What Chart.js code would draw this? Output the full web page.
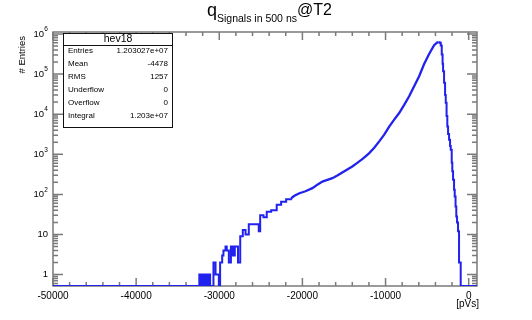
<!DOCTYPE html>
<html>
<head>
<meta charset="utf-8">
<script src="https://cdn.jsdelivr.net/npm/chart.js@4.4.0/dist/chart.umd.min.js"></script>
<style>
  html, body { margin: 0; padding: 0; background: #fff; }
  #wrap { width: 532px; height: 320px; }
</style>
</head>
<body>
<div id="wrap"><canvas id="c" width="532" height="320"></canvas></div>
<script>
'use strict';

/* ── DATOS DEL HISTOGRAMA hev18 ──
   Cola izquierda ruidosa (escalones): borde izquierdo (pVs) y cuentas.
   0 = bin vacío, se dibuja en el fondo del eje log. */
const tailLow = [
  -50000, -32400, -32300, -32200, -32100, -32000, -31900, -31800, -31700, -31600,
  -31500, -31400, -31300, -31200, -31100, -30700, -30450, -30050, -29900, -29650,
  -29500, -29250, -29100, -28850, -28600, -28370, -28130, -27750, -27480, -27170,
  -26840, -26450, -25250, -25080, -24680, -24290, -23760, -23090, -22560, -21960,
  -21360
];
const tailEntries = [
  0, 1, 0, 1, 0, 1, 0, 1, 0, 1,
  0, 1, 0, 1, 0, 2, 1, 0, 2, 3,
  4, 5, 4, 2, 5, 3, 5, 2, 9, 13,
  10, 18, 12, 30, 27, 37, 40, 55, 66, 76,
  80
];

/* Cuerpo suave hasta el pico (posición en pVs y cuentas) */
const bodyX = [
  -21360, -20960, -20360, -19640, -18800, -18200, -17600, -17000, -16400, -15800,
  -15200, -14600, -14000, -13400, -12800, -12440, -11960, -11360, -10760, -10160,
  -9560, -8960, -8360, -7760, -7160, -6560, -5960, -5360, -4760, -4160,
  -3800, -3620
];
const bodyEntries = [
  80, 92, 107, 120, 143, 175, 209, 230, 254, 295,
  351, 420, 496, 610, 759, 880, 1070, 1450, 2100, 3100,
  4900, 7300, 10700, 17000, 27900, 50000, 88000, 178000, 316000, 525000,
  610000, 625000
];

/* Caída tras el pico (escalones) */
const edgeLow = [
  -3620, -3500, -3360, -3240, -3140, -3080, -2960, -2840, -2760, -2660,
  -2570, -2480, -2360, -2240, -2160, -2040, -1970, -1880, -1760, -1680,
  -1580, -1490, -1400, -1280, -1160, -960, 1000
];
const edgeEntries = [
  625000, 600000, 515000, 307000, 180000, 117000, 61000, 30000, 19400, 9000,
  4950, 3200, 2300, 1600, 1300, 614, 380, 231, 130, 88,
  50, 28, 20, 12, 2, 0, 0
];

/* ── EJES ── */
const X_MIN = -50000, X_MAX = 1000;
const Y_MIN = 0.52,   Y_MAX = 1.12e6;
const xTickValues = [-50000, -40000, -30000, -20000, -10000, 0];
const xTickLabels = ['-50000', '-40000', '-30000', '-20000', '-10000', '0'];
const yTickValues = [1, 10, 100, 1e3, 1e4, 1e5, 1e6];
const yTickBase   = ['1', '10', '10', '10', '10', '10', '10'];
const yTickExp    = ['', '', '2', '3', '4', '5', '6'];

/* ── CAJA DE ESTADÍSTICAS ── */
const statsTitle  = 'hev18';
const statsNames  = ['Entries', 'Mean', 'RMS', 'Underflow', 'Overflow', 'Integral'];
const statsValues = ['1.203027e+07', '-4478', '1257', '0', '0', '1.203e+07'];

const FONT       = '"Liberation Sans", Arial, Helvetica, sans-serif';
const AXIS_GREY  = '#7a7a7a';
const LINE_BLUE  = '#2222ee';

/* ── MARCO, TICKS Y TEXTOS AL ESTILO ROOT ── */
const rootFrame = {
  id: 'rootFrame',
  beforeDatasetsDraw(chart) {
    const ctx = chart.ctx;
    const a   = chart.chartArea;
    const xs  = chart.scales.x;
    const ys  = chart.scales.y;
    ctx.save();
    ctx.strokeStyle = AXIS_GREY;
    ctx.lineWidth = 1.5;
    ctx.beginPath();
    /* ticks x: mayores cada 10000, menores cada 2000, abajo y arriba */
    for (let v = X_MIN; v <= 0; v += 2000) {
      const px  = xs.getPixelForValue(v);
      const len = (v % 10000 === 0) ? 8 : 4;
      ctx.moveTo(px, a.bottom); ctx.lineTo(px, a.bottom - len);
      ctx.moveTo(px, a.top);    ctx.lineTo(px, a.top + len);
    }
    /* ticks y log: décadas largas, 2..9 cortas, izquierda y derecha */
    for (let d = -1; d <= 6; d++) {
      for (let m = 1; m <= 9; m++) {
        const v = m * Math.pow(10, d);
        if (v < Y_MIN || v > Y_MAX) continue;
        const py  = ys.getPixelForValue(v);
        const len = m === 1 ? 10 : 5;
        ctx.moveTo(a.left, py);  ctx.lineTo(a.left + len, py);
        ctx.moveTo(a.right, py); ctx.lineTo(a.right - len, py);
      }
    }
    ctx.stroke();
    ctx.strokeRect(a.left, a.top, a.right - a.left, a.bottom - a.top);
    ctx.restore();
  },
  afterDraw(chart) {
    const ctx = chart.ctx;
    const a   = chart.chartArea;
    const xs  = chart.scales.x;
    const ys  = chart.scales.y;
    ctx.save();
    ctx.fillStyle = '#000';

    /* etiquetas x */
    ctx.font = '10px ' + FONT;
    ctx.textAlign = 'center';
    ctx.textBaseline = 'top';
    xTickValues.forEach((v, i) => {
      ctx.fillText(xTickLabels[i], xs.getPixelForValue(v), a.bottom + 5);
    });

    /* etiquetas y (10 con exponente) */
    ctx.textBaseline = 'middle';
    yTickValues.forEach((v, i) => {
      const py = ys.getPixelForValue(v);
      ctx.font = '9.5px ' + FONT;
      ctx.textAlign = 'right';
      if (yTickExp[i]) {
        ctx.fillText(yTickBase[i], 44, py);
        ctx.font = '6.5px ' + FONT;
        ctx.textAlign = 'left';
        ctx.fillText(yTickExp[i], 44.3, py - 4.5);
      } else {
        ctx.fillText(yTickBase[i], 48, py);
      }
    });

    /* títulos de ejes */
    ctx.font = '10px ' + FONT;
    ctx.textAlign = 'right';
    ctx.textBaseline = 'alphabetic';
    ctx.fillText('[pVs]', 479, 307);

    ctx.save();
    ctx.translate(25, 36);
    ctx.rotate(-Math.PI / 2);
    ctx.font = '9.5px ' + FONT;
    ctx.textAlign = 'right';
    ctx.fillText('# Entries', 0, 0);
    ctx.restore();

    /* título: q_{Signals in 500 ns}^{@T2} */
    ctx.textAlign = 'left';
    ctx.font = '18px ' + FONT;
    ctx.fillText('q', 207, 16);
    ctx.font = '10.5px ' + FONT;
    ctx.fillText('Signals in 500 ns', 217, 22);
    ctx.font = '16px ' + FONT;
    ctx.fillText('@T2', 297, 15);

    /* caja de estadísticas */
    const bx = 63.5, by = 33.5, bw = 109, bh = 94;
    ctx.fillStyle = '#fff';
    ctx.fillRect(bx, by, bw, bh);
    ctx.strokeStyle = '#111';
    ctx.lineWidth = 1;
    ctx.strokeRect(bx, by, bw, bh);
    ctx.beginPath();
    ctx.moveTo(bx, 45.5); ctx.lineTo(bx + bw, 45.5);
    ctx.stroke();

    ctx.fillStyle = '#000';
    ctx.font = '10.5px ' + FONT;
    ctx.textAlign = 'center';
    ctx.textBaseline = 'middle';
    ctx.fillText(statsTitle, bx + bw / 2, 39.5);

    ctx.font = '8px ' + FONT;
    statsNames.forEach((name, i) => {
      const y = 51 + i * 13;
      ctx.textAlign = 'left';
      ctx.fillText(name, 68, y);
      ctx.textAlign = 'right';
      ctx.fillText(statsValues[i], 168, y);
    });
    ctx.restore();
  }
};

/* ── GRÁFICA ── */
const aPuntos = (xsArr, ysArr) =>
  xsArr.map((x, i) => ({ x, y: ysArr[i] > 0 ? ysArr[i] : Y_MIN }));

const estiloLinea = { borderColor: LINE_BLUE, pointRadius: 0, fill: false };

new Chart(document.getElementById('c'), {
  type: 'line',
  data: {
    datasets: [
      { ...estiloLinea, data: aPuntos(tailLow, tailEntries), stepped: 'before', borderWidth: 2 },
      { ...estiloLinea, data: aPuntos(bodyX, bodyEntries), borderWidth: 2.3, tension: 0 },
      { ...estiloLinea, data: aPuntos(edgeLow, edgeEntries), stepped: 'before', borderWidth: 2 }
    ]
  },
  options: {
    responsive: false,
    animation: false,
    layout: { padding: { left: 53, right: 55, top: 32, bottom: 34 } },
    plugins: { legend: { display: false }, tooltip: { enabled: false } },
    scales: {
      x: { type: 'linear', min: X_MIN, max: X_MAX, display: false },
      y: { type: 'logarithmic', min: Y_MIN, max: Y_MAX, display: false }
    }
  },
  plugins: [rootFrame]
});
</script>
</body>
</html>
